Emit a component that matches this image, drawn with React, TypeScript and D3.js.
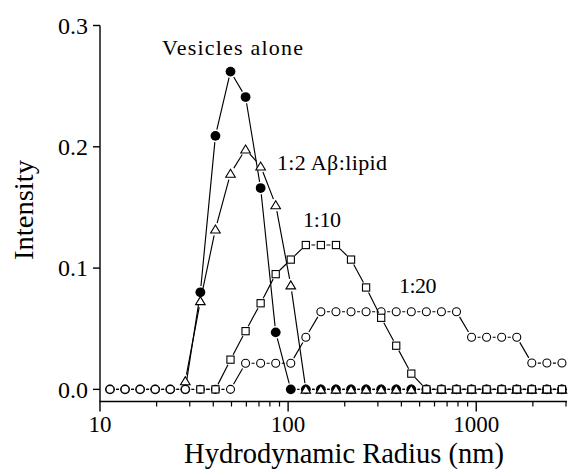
import React from 'react';
import * as d3 from 'd3';

// Hydrodynamic radius bins (nm)
const radius = [11.3, 13.59, 16.34, 19.65, 23.63, 28.41, 34.16, 41.08, 49.4, 59.4, 71.43, 85.9, 103.3, 124.2, 149.3, 179.6, 216.0, 259.7, 312.3, 375.5, 451.6, 543.0, 653.0, 785.2, 944.2, 1135, 1365, 1642, 1974, 2374, 2855];

const vesicles: (number | null)[] = [0, 0, 0, 0, 0, 0, 0.08, 0.209, 0.262, 0.241, 0.166, 0.047, 0, 0, 0, 0, 0, 0, 0, 0, 0, 0, 0, 0, 0, 0, 0, 0, 0, 0, 0];
const ratio2: (number | null)[] = [null, null, null, null, null, 0.007, 0.073, 0.132, 0.178, 0.198, 0.184, 0.152, 0.086, 0, 0, 0, 0, 0, 0, 0, 0, 0, 0, 0, 0, 0, 0, 0, 0, 0, 0];
const ratio10: (number | null)[] = [null, null, null, null, null, null, 0, 0, 0.0245, 0.048, 0.071, 0.095, 0.107, 0.119, 0.119, 0.119, 0.107, 0.084, 0.059, 0.036, 0.013, 0, 0, 0, 0, 0, 0, 0, 0, 0, 0];
const ratio20: (number | null)[] = [0, 0, 0, 0, 0, 0, 0, 0, 0, 0.0215, 0.0215, 0.0215, 0.0215, 0.043, 0.064, 0.064, 0.064, 0.064, 0.064, 0.064, 0.064, 0.064, 0.064, 0.064, 0.043, 0.043, 0.043, 0.043, 0.0217, 0.0217, 0.0217];

const yTicks = [0, 0.1, 0.2, 0.3];
const xMajor = [10, 100, 1000];
const xMinor = [20, 30, 40, 50, 60, 70, 80, 90, 200, 300, 400, 500, 600, 700, 800, 900, 2000, 3000];

const labels = [
  { text: 'Vesicles alone', x: 162, y: 55, len: 141 },
  { text: '1:2 A\u03B2:lipid', x: 277, y: 170, len: 110 },
  { text: '1:10', x: 303, y: 227, len: 38 },
  { text: '1:20', x: 399, y: 292.5, len: 37.5 },
];

const W = 583;
const H = 472;
const FONT = '"Liberation Serif", "Times New Roman", Times, serif';

const x = d3.scaleLog().domain([10, 3000]).range([100, 566]);
const y = d3.scaleLinear().domain([-0.01, 0.3]).range([401.5, 25.5]);

type Shape = 'filled' | 'triangle' | 'circle' | 'square';

function segments(vals: (number | null)[], gap: number) {
  const pts: [number, number][] = [];
  vals.forEach((v, i) => {
    if (v !== null) pts.push([x(radius[i]), y(v)]);
  });
  const segs: string[] = [];
  for (let i = 0; i < pts.length - 1; i++) {
    const [x1, y1] = pts[i];
    const [x2, y2] = pts[i + 1];
    const dx = x2 - x1, dy = y2 - y1;
    const d = Math.hypot(dx, dy);
    if (d <= 2 * gap + 0.5) continue;
    const ux = dx / d, uy = dy / d;
    segs.push(`M${x1 + ux * gap},${y1 + uy * gap}L${x2 - ux * gap},${y2 - uy * gap}`);
  }
  return { pts, path: segs.join('') };
}

function Marker({ shape, cx, cy }: { shape: Shape; cx: number; cy: number }) {
  if (shape === 'filled') return <circle cx={cx} cy={cy} r={4.9} fill="#000" />;
  if (shape === 'circle') return <circle cx={cx} cy={cy} r={4.0} fill="#fff" stroke="#000" strokeWidth={1.1} />;
  if (shape === 'square') return <rect x={cx - 3.6} y={cy - 3.6} width={7.2} height={7.2} fill="#fff" stroke="#000" strokeWidth={1.1} />;
  return (
    <path
      d={`M${cx},${cy - 4.2}L${cx + 4.8},${cy + 3.8}L${cx - 4.8},${cy + 3.8}Z`}
      fill="#fff"
      stroke="#000"
      strokeWidth={1.1}
      strokeLinejoin="miter"
    />
  );
}

function Series({ vals, shape, gap }: { vals: (number | null)[]; shape: Shape; gap: number }) {
  const { pts, path } = segments(vals, gap);
  return (
    <g>
      <path d={path} fill="none" stroke="#000" strokeWidth={1.15} />
      {pts.map(([cx, cy], i) => (
        <Marker key={i} shape={shape} cx={cx} cy={cy} />
      ))}
    </g>
  );
}

export default function App() {
  const y0 = y.range()[0];
  const yTop = y(0.3);
  return (
    <svg
      width={W}
      height={H}
      viewBox={`0 0 ${W} ${H}`}
      style={{ position: 'absolute', left: 0, top: 0, background: '#fff' }}
      fontFamily={FONT}
    >
      <rect width={W} height={H} fill="#fff" />
      {/* axes */}
      <line x1={100} y1={yTop} x2={100} y2={y0} stroke="#000" strokeWidth={1.4} />
      <line x1={99.3} y1={y0} x2={x(3000) + 1} y2={y0} stroke="#000" strokeWidth={1.4} />
      {yTicks.map((t) => (
        <g key={t}>
          <line x1={93} x2={100} y1={y(t)} y2={y(t)} stroke="#000" strokeWidth={1.4} />
          <text x={88} y={y(t)} dy="0.35em" textAnchor="end" fontSize={24}>
            {d3.format('.1f')(t)}
          </text>
        </g>
      ))}
      {xMajor.map((t) => (
        <g key={t}>
          <line x1={x(t)} x2={x(t)} y1={y0} y2={y0 + 10} stroke="#000" strokeWidth={1.4} />
          <text x={x(t)} y={432} textAnchor="middle" fontSize={23}>
            {t}
          </text>
        </g>
      ))}
      {xMinor.map((t) => (
        <line key={t} x1={x(t)} x2={x(t)} y1={y0} y2={y0 + 5} stroke="#000" strokeWidth={1.2} />
      ))}
      {/* titles */}
      <text x={344} y={463} textAnchor="middle" fontSize={28.5}>
        Hydrodynamic Radius (nm)
      </text>
      <text
        transform="translate(33,210) rotate(-90)"
        textAnchor="middle"
        fontSize={27.5}
        textLength={100}
        lengthAdjust="spacingAndGlyphs"
      >
        Intensity
      </text>
      {/* data */}
      <Series vals={vesicles} shape="filled" gap={6.3} />
      <Series vals={ratio2} shape="triangle" gap={6.3} />
      <Series vals={ratio20} shape="circle" gap={6} />
      <Series vals={ratio10} shape="square" gap={5.6} />
      {labels.map((l) => (
        <text key={l.text} x={l.x} y={l.y} fontSize={22} textLength={l.len} lengthAdjust="spacing">
          {l.text}
        </text>
      ))}
    </svg>
  );
}
